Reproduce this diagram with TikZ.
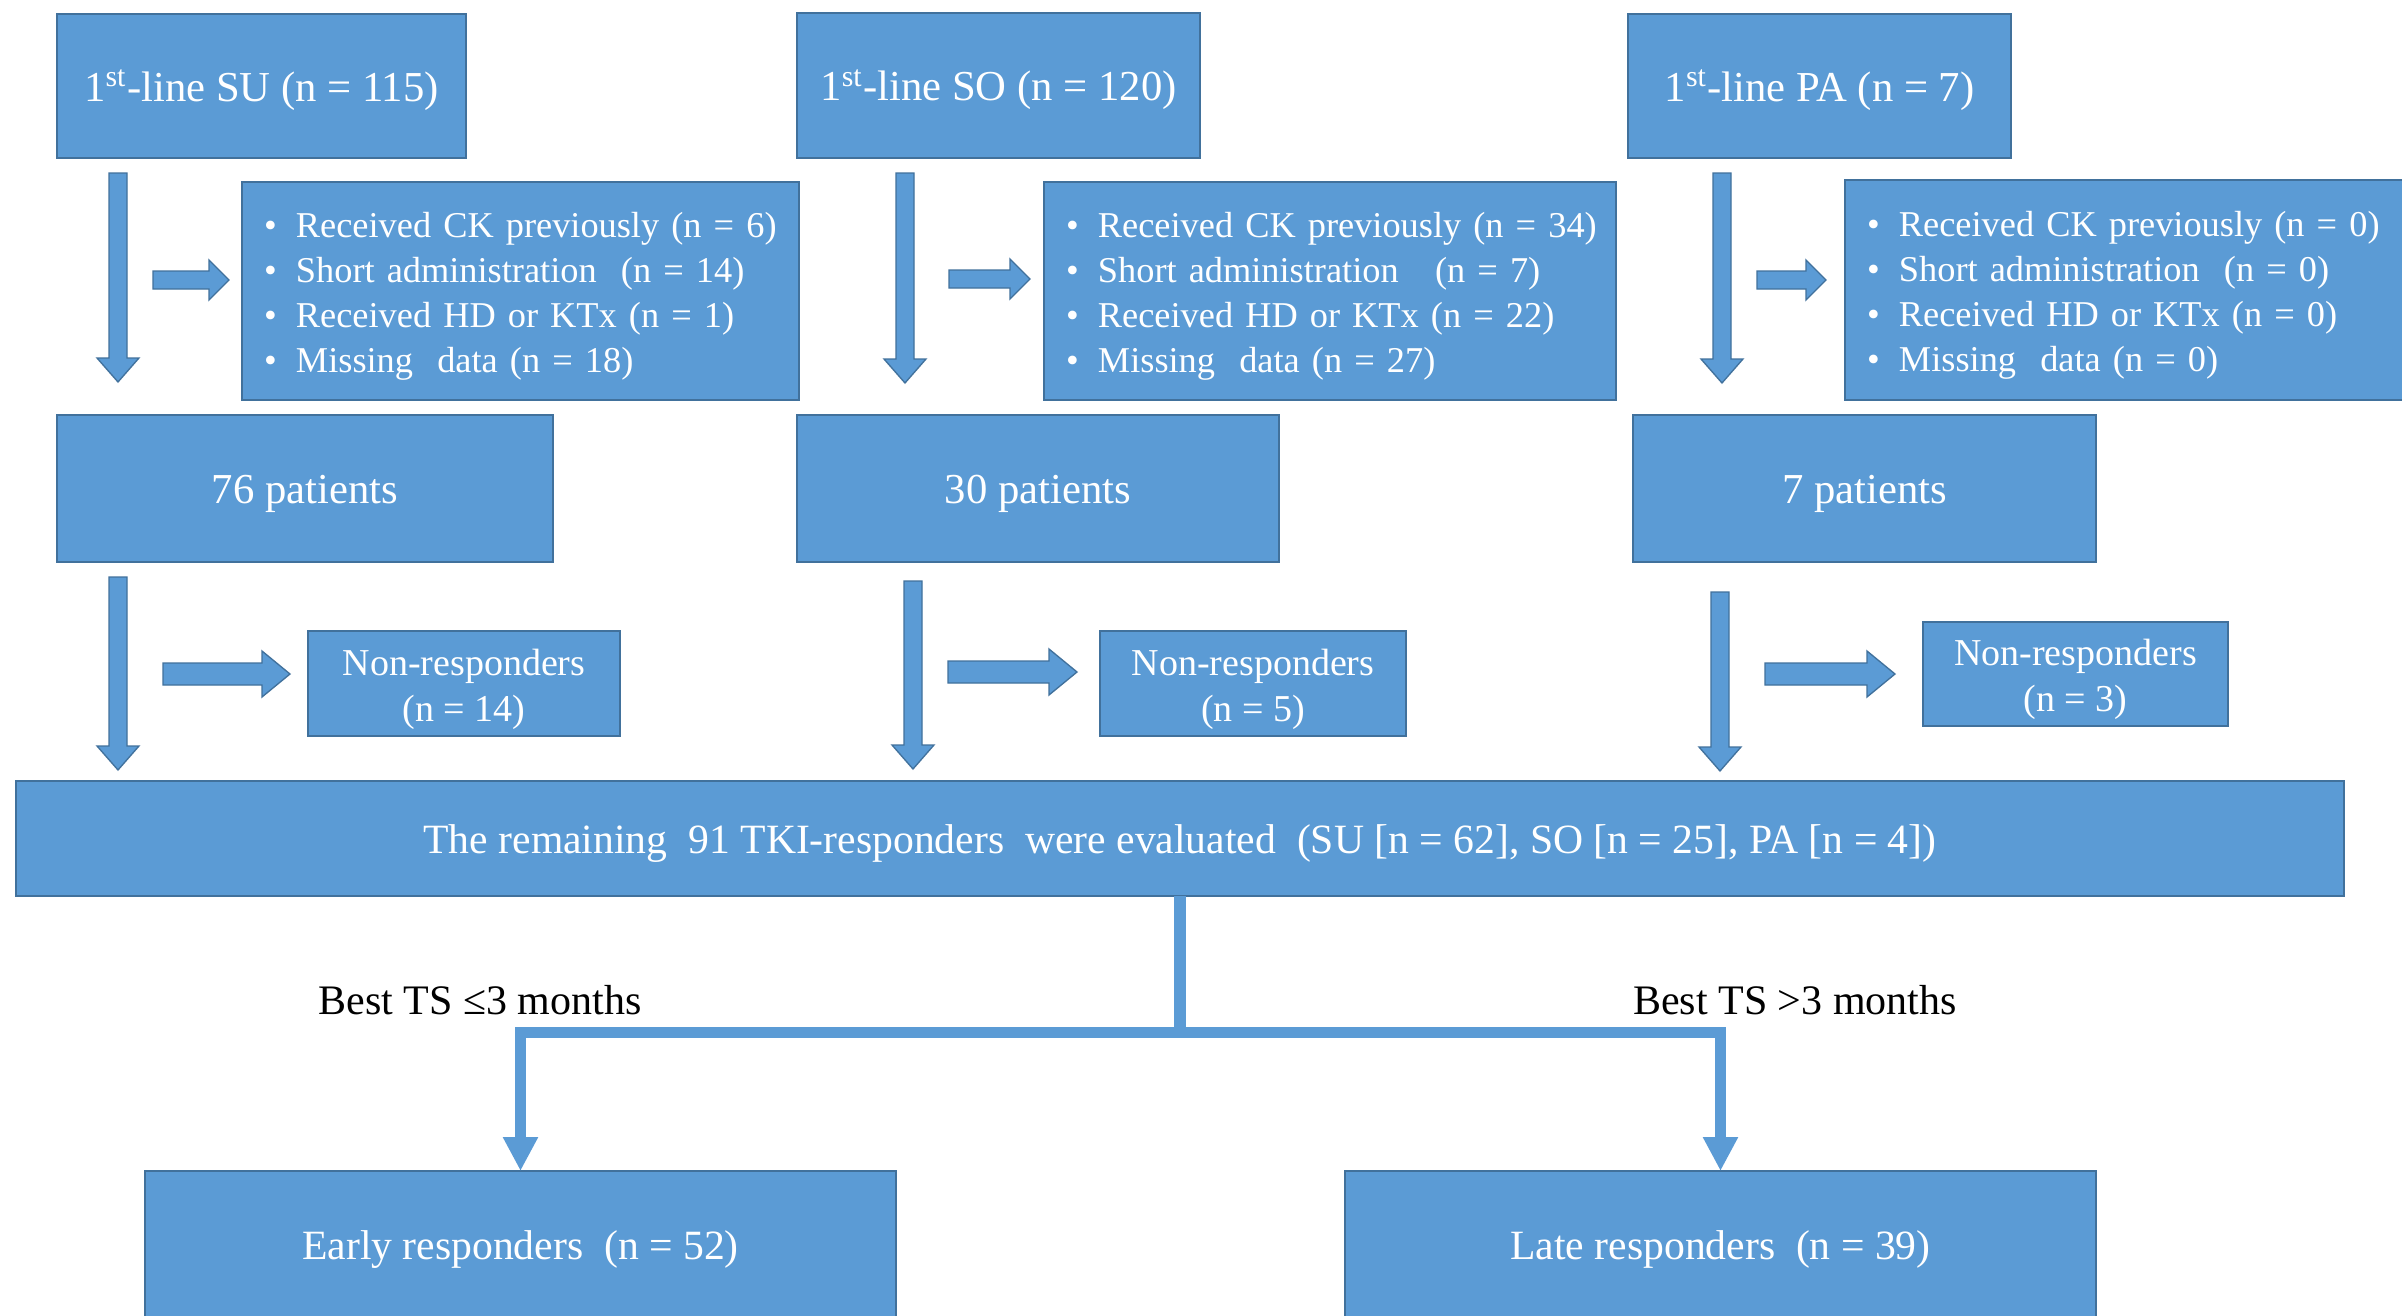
\documentclass[tikz,border=0pt]{standalone}
\usepackage{fontspec}
\setmainfont{Liberation Serif}
\usetikzlibrary{arrows.meta}
\definecolor{boxblue}{HTML}{5B9BD5}
\definecolor{edgeblue}{HTML}{41719C}
% box: name, x1, y1, x2, y2, options, text (centred lines)
\newcommand\pbox[7]{\node[box,#6,minimum width={(#4-#2)*0.3pt},minimum height={(#5-#3)*0.3pt}] (#1) at ({(#2+#4)/2},{(#3+#5)/2}) {\raisebox{-1.6pt}[\height][\depth]{\begin{tabular}{@{}c@{}}#7\end{tabular}}};}
% list box: name, x1, y1, x2, y2, options, lines
\newcommand\lbox[7]{\node[box,listtext,#6,text width={(#4-#2-44)*0.3pt},minimum width={(#4-#2)*0.3pt},minimum height={(#5-#3)*0.3pt}] (#1) at ({(#2+#4)/2},{(#3+#5)/2}) {\raisebox{-1.6pt}[\height][\depth]{\begin{tabular}{@{}l@{}}#7\end{tabular}}};}
% down block arrow: x, y1, y2, shaft, head width, head length
\newcommand\dblock[6]{\filldraw[blockarrow] ({#1-#4/2},#2) -- ({#1+#4/2},#2) -- ({#1+#4/2},{#3-#6}) -- ({#1+#5/2},{#3-#6}) -- (#1,#3) -- ({#1-#5/2},{#3-#6}) -- ({#1-#4/2},{#3-#6}) -- cycle;}
% right block arrow: y, x1, x2, shaft, head width, head length
\newcommand\rblock[6]{\filldraw[blockarrow] (#2,{#1-#4/2}) -- (#2,{#1+#4/2}) -- ({#3-#6},{#1+#4/2}) -- ({#3-#6},{#1+#5/2}) -- (#3,#1) -- ({#3-#6},{#1-#5/2}) -- ({#3-#6},{#1-#4/2}) -- cycle;}
\newcommand\bul{\makebox[9.6pt][l]{\textbullet}}
\begin{document}
\begin{tikzpicture}[x=0.3pt,y=-0.3pt,
  box/.style={draw=edgeblue,line width=0.5pt,fill=boxblue,text=white,inner sep=0pt,outer sep=0pt,align=center},
  headtext/.style={font=\fontsize{12.8}{15}\selectfont},
  midtext/.style={font=\fontsize{12.5}{15}\selectfont},
  listtext/.style={font=\fontsize{10.9}{13.5}\selectfont,align=left,inner xsep=6.6pt},
  nrtext/.style={font=\fontsize{11.4}{13.8}\selectfont},
  blockarrow/.style={fill=boxblue,draw=edgeblue,line width=0.4pt},
  connector/.style={draw=boxblue},
  labeltext/.style={font=\fontsize{12.6}{14}\selectfont,text=black,inner sep=0pt}]
\useasboundingbox (0,0) rectangle (2402,1316);
\fill[white] (0,0) rectangle (2402,1316);

% top row
\pbox{su}{57}{14}{466}{158}{headtext}{1\textsuperscript{st}-line SU (n = 115)}
\pbox{so}{797}{13}{1200}{158}{headtext}{1\textsuperscript{st}-line SO (n = 120)}
\pbox{pa}{1628}{14}{2011}{158}{headtext}{1\textsuperscript{st}-line PA (n = 7)}

% exclusion lists
\lbox{exsu}{242}{182}{799}{400}{}{\bul Received CK previously (n = 6)\\\bul Short administration\ \ (n = 14)\\\bul Received HD or KTx (n = 1)\\\bul Missing\ \ data (n = 18)}
\lbox{exso}{1044}{182}{1616}{400}{}{\bul Received CK previously (n = 34)\\\bul Short administration\ \ \ (n = 7)\\\bul Received HD or KTx (n = 22)\\\bul Missing\ \ data (n = 27)}
\lbox{expa}{1845}{180}{2420}{400}{}{\bul Received CK previously (n = 0)\\\bul Short administration\ \ (n = 0)\\\bul Received HD or KTx (n = 0)\\\bul Missing\ \ data (n = 0)}

% patients row
\pbox{ptsu}{57}{415}{553}{562}{headtext}{76 patients}
\pbox{ptso}{797}{415}{1279}{562}{headtext}{30 patients}
\pbox{ptpa}{1633}{415}{2096}{562}{headtext}{7 patients}

% non-responders
\pbox{nrsu}{308}{631}{620}{736}{nrtext}{Non-responders\\(n = 14)}
\pbox{nrso}{1100}{631}{1406}{736}{nrtext}{Non-responders\\(n = 5)}
\pbox{nrpa}{1923}{622}{2228}{726}{nrtext}{Non-responders\\(n = 3)}

% evaluated
\pbox{eval}{16}{781}{2344}{896}{midtext}{The remaining\ \ 91 TKI-responders\ \ were evaluated\ \ (SU [n = 62], SO [n = 25], PA [n = 4])}

% outcomes
\pbox{early}{145}{1171}{896}{1318}{midtext}{Early responders\ \ (n = 52)}
\pbox{late}{1345}{1171}{2096}{1318}{midtext}{Late responders\ \ (n = 39)}

% block arrows row 1
\dblock{118}{173}{382}{18}{42}{24}
\dblock{905}{173}{383}{18}{42}{24}
\dblock{1722}{173}{383}{18}{42}{24}
\rblock{280}{153}{229}{18}{40}{20}
\rblock{279}{949}{1030}{18}{40}{20}
\rblock{280}{1757}{1826}{18}{40}{20}

% block arrows row 2
\dblock{118}{577}{770}{18}{42}{24}
\dblock{913}{581}{769}{18}{42}{24}
\dblock{1720}{592}{771}{18}{42}{24}
\rblock{674}{163}{290}{22}{46}{28}
\rblock{672}{948}{1077}{22}{46}{28}
\rblock{674}{1765}{1895}{22}{46}{28}

% split connectors
\coordinate (bl) at (early.north |- 0,1032.5);
\coordinate (br) at (late.north |- 0,1032.5);
\draw[connector,line width=3.6pt] (eval.south) -- (eval.south |- bl);
\draw[connector,line width=3.3pt,line cap=rect] (bl) -- (br);
\draw[connector,line width=3.3pt,-{Triangle[width=9.9pt 0,length=10.2pt 0]}] (bl) -- (early.north);
\draw[connector,line width=3.3pt,-{Triangle[width=9.9pt 0,length=10.2pt 0]}] (br) -- (late.north);

% labels
\node[labeltext] (lab1) at (480,1000) {Best TS ≤3 months};
\node[labeltext] (lab2) at (1795,1000) {Best TS >3 months};
\end{tikzpicture}
\end{document}
